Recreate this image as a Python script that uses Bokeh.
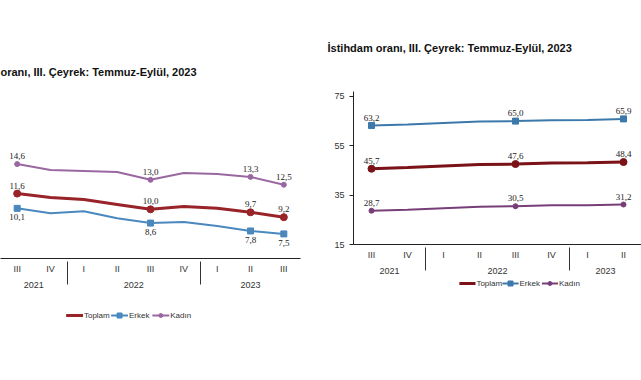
from bokeh.plotting import figure
from bokeh.models import (FactorRange, ColumnDataSource, Label, LabelSet, Range1d,
                          FixedTicker)
from bokeh.layouts import row, column
from bokeh.embed import file_html
from bokeh.resources import INLINE
from bokeh.core.properties import value

# ---------------- data ----------------
quarters = [("2021", "III"), ("2021", "IV"),
            ("2022", "I"), ("2022", "II"), ("2022", "III"), ("2022", "IV"),
            ("2023", "I"), ("2023", "II"), ("2023", "III")]

# left chart: unemployment rate (%)
u_title = "oranı, III. Çeyrek: Temmuz-Eylül, 2023"
u_toplam = [11.6, 11.2, 11.0, 10.5, 10.0, 10.3, 10.1, 9.7, 9.2]
u_erkek = [10.1, 9.6, 9.8, 9.1, 8.6, 8.7, 8.3, 7.8, 7.5]
u_kadin = [14.6, 14.0, 13.9, 13.8, 13.0, 13.7, 13.6, 13.3, 12.5]
u_labelled = [0, 4, 7, 8]

# right chart: employment rate (%), visible part 2021 III .. 2023 II
e_title = "İstihdam oranı, III. Çeyrek: Temmuz-Eylül, 2023"
e_quarters = quarters[:8]
e_toplam = [45.7, 46.2, 46.8, 47.4, 47.6, 48.0, 48.1, 48.4]
e_erkek = [63.2, 63.6, 64.2, 64.8, 65.0, 65.4, 65.5, 65.9]
e_kadin = [28.7, 29.1, 29.7, 30.3, 30.5, 30.9, 30.9, 31.2]
e_labelled = [0, 4, 7]
e_ticks = [15, 35, 55, 75]
unit_label = "(%)"

series_names = ["Toplam", "Erkek", "Kadın"]
colors_left = {"Toplam": "#982329", "Erkek": "#4a88bd", "Kadın": "#9a68a0"}
colors_right = {"Toplam": "#7a1217", "Erkek": "#3c79aa", "Kadın": "#783e78"}
widths = {"Toplam": 3, "Erkek": 2, "Kadın": 2}
markers = {"Toplam": "circle", "Erkek": "square", "Kadın": "circle"}
msizes = {"Toplam": 7, "Erkek": 6, "Kadın": 5}
FONT = "Liberation Sans"


def fmt(v):
    return f"{v:.1f}".replace(".", ",")


def style_axes(p):
    p.grid.visible = False
    p.outline_line_color = None
    ax = p.xaxis[0]
    ax.axis_line_color = "#222222"
    ax.major_tick_line_color = None
    ax.major_tick_out = 0
    ax.major_tick_in = 0
    ax.major_label_text_font = FONT
    ax.major_label_text_font_size = "9px"
    ax.major_label_text_color = "#333333"
    ax.group_text_font = FONT
    ax.group_text_font_size = "9px"
    ax.group_text_color = "#333333"
    ax.group_text_font_style = "normal"
    ax.separator_line_color = "#333333"
    ax.separator_line_width = 1
    p.title.text_font = FONT
    p.title.text_font_size = "11px"
    p.title.text_font_style = "bold"
    p.title.text_color = "#111111"


def draw_series(p, xs, data, labelled, below_names, colors):
    for name in series_names:
        vals = data[name]
        src = ColumnDataSource(dict(x=xs, y=vals))
        p.line("x", "y", source=src, line_color=colors[name], line_width=widths[name])
        lsrc = ColumnDataSource(dict(x=[xs[i] for i in labelled],
                                     y=[vals[i] for i in labelled],
                                     t=[fmt(vals[i]) for i in labelled]))
        p.scatter("x", "y", source=lsrc, marker=markers[name], size=msizes[name],
                  fill_color=colors[name], line_color=colors[name])
        below = name in below_names
        p.add_layout(LabelSet(x="x", y="y", text="t", source=lsrc,
                              text_font=FONT, text_font_size="9px",
                              text_color="#222222", text_align="center",
                              text_baseline="top" if below else "bottom",
                              y_offset=-6 if below else 5))


def legend_fig(width, height, start, colors):
    # a small figure that acts as the legend strip below a chart
    lf = figure(width=width, height=height, x_range=Range1d(0, width),
                y_range=Range1d(0, 1), output_backend="svg", toolbar_location=None,
                min_border_left=0, min_border_right=0, min_border_top=0,
                min_border_bottom=0)
    lf.axis.visible = False
    lf.grid.visible = False
    lf.outline_line_color = None
    swatch = 18
    x = start
    for name in series_names:
        lf.segment(x0=[x], y0=[0.5], x1=[x + swatch], y1=[0.5],
                   line_color=colors[name], line_width=widths[name])
        if name != "Toplam":
            lf.scatter(x=[x + swatch / 2], y=[0.5], marker=markers[name],
                       size=msizes[name] - 1, fill_color=colors[name],
                       line_color=colors[name])
        lf.text(x=[x + swatch + 1], y=[0.5], text=[name], text_font=value(FONT),
                text_font_size="8px", text_color="#333333", text_baseline="middle",
                text_align="left")
        x += swatch + 1 + 4 * len(name) + 5
    return lf


# ---------------- left chart ----------------
p1 = figure(frame_width=300, frame_height=118,
            x_range=FactorRange(*quarters, factor_padding=0, group_padding=0,
                                range_padding=0),
            y_range=Range1d(5, 17),
            output_backend="svg", toolbar_location=None,
            min_border_left=0, min_border_right=20, min_border_top=140,
            min_border_bottom=0, title=u_title)
style_axes(p1)
p1.title.standoff = 125
p1.yaxis.visible = False
draw_series(p1, quarters,
            {"Toplam": u_toplam, "Erkek": u_erkek, "Kadın": u_kadin},
            u_labelled, ["Erkek"], colors_left)
leg1 = legend_fig(320, 50, 70, colors_left)

# ---------------- right chart ----------------
p2 = figure(frame_width=288, frame_height=153,
            x_range=FactorRange(*e_quarters, factor_padding=0, group_padding=0,
                                range_padding=0),
            y_range=Range1d(15, 77),
            output_backend="svg", toolbar_location=None,
            min_border_left=33, min_border_right=0, min_border_top=91,
            min_border_bottom=0, title=e_title)
style_axes(p2)
p2.title.offset = -26
p2.title.standoff = 76
ya = p2.yaxis[0]
ya.ticker = FixedTicker(ticks=e_ticks)
ya.minor_tick_line_color = None
ya.axis_line_color = "#222222"
ya.major_tick_line_color = "#222222"
ya.major_tick_out = 4
ya.major_tick_in = 0
ya.major_label_text_font = FONT
ya.major_label_text_font_size = "9px"
ya.major_label_text_color = "#333333"
p2.add_layout(Label(x=-0.22, y=81.5, text=unit_label, text_font=FONT,
                    text_font_size="9px", text_color="#333333",
                    text_align="center", text_baseline="middle"))
draw_series(p2, e_quarters,
            {"Toplam": e_toplam, "Erkek": e_erkek, "Kadın": e_kadin},
            e_labelled, [], colors_right)
leg2 = legend_fig(321, 14, 118, colors_right)

layout = row(column(p1, leg1), column(p2, leg2))
open("out.html", "w").write(file_html(layout, INLINE))
